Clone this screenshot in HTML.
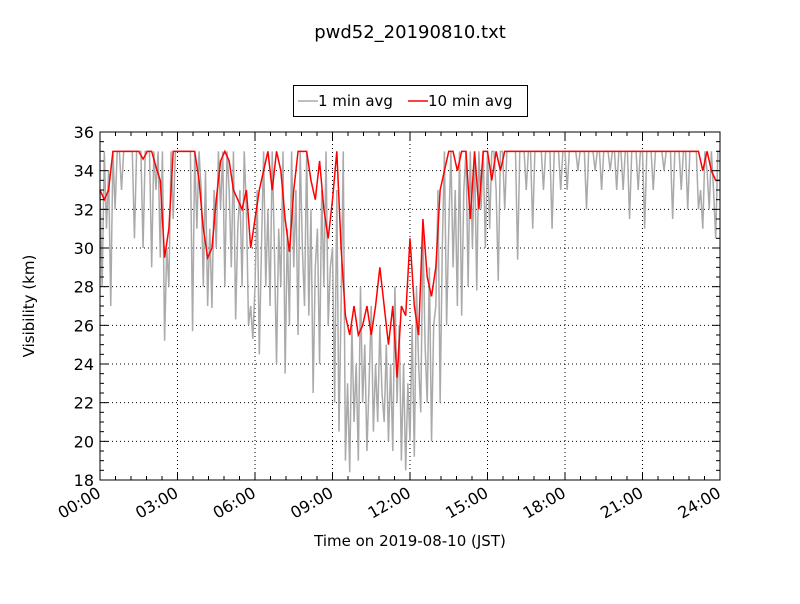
<!DOCTYPE html>
<html><head><meta charset="utf-8"><style>
body{margin:0;background:#fff;font-family:"DejaVu Sans","Liberation Sans",sans-serif}
svg text{font-family:"DejaVu Sans","Liberation Sans",sans-serif}
</style></head><body>
<svg id="chart" width="800" height="600" viewBox="0 0 800 600" xmlns="http://www.w3.org/2000/svg">
<rect width="800" height="600" fill="#fff"/>
<text x="410" y="38" font-size="18" text-anchor="middle">pwd52_20190810.txt</text>
<g id="plot"></g>
<g id="axes"></g>
<text transform="translate(34,306) rotate(-90)" font-size="15" text-anchor="middle">Visibility (km)</text>
<text x="410" y="546" font-size="15" text-anchor="middle">Time on 2019-08-10 (JST)</text>
<g>
<rect x="293.5" y="85.5" width="234" height="31" fill="#fff" stroke="#000"/>
<line x1="298" y1="101" x2="318" y2="101" stroke="#aaa" stroke-width="1.5"/>
<text x="318" y="106" font-size="15">1 min avg</text>
<line x1="408" y1="101" x2="428" y2="101" stroke="#f00" stroke-width="1.5"/>
<text x="428" y="106" font-size="15">10 min avg</text>
</g>
</svg>
<script>
const yTicks=[18,20,22,24,26,28,30,32,34,36];
const xTickHours=[0,3,6,9,12,15,18,21,24];
const xTickLabels=["00:00","03:00","06:00","09:00","12:00","15:00","18:00","21:00","24:00"];
const grayVals=[
33,28,35,31,34,27,35,32,35,35,33,35,
35,35,35,35,30.5,35,35,35,30,35,35,35,
29,35,33,35,29.5,35,25.2,30,28,35,31.5,35,
35,35,35,35,35,35,35,25.7,35,31,35,33,
28,34,27,31,26.9,33,30,35,32,35,28,35,
33,29,35,26.3,31,33,28,35,32,26,27,25.3,
28,33,24.5,30,35,28,32,27,35,30,24,31,
28,35,23.5,31,26,35,29,33,25.5,35,30,27,
35,26.5,32,22.5,29,31,24,33,28,35,26,29,
30,22,33,20.5,27,35,19,23,18.4,26,21,24,
19,28,22,25,19.5,23,27,20.5,24,21,26,22.5,
21,25,20,24,19.5,28,22,26,19,24,18.5,23,
20,26,19.2,28,24,21.5,31,25,22,29,20,26,
27,33,22,30,35,26,31,35,29,33,27,35,
26.5,33,35,28,35,30,35,27.8,35,32,35,30,
35,31,35,35,33,28.3,35,35,32,35,35,35,
35,35,29.4,35,35,35,33,35,35,31,35,35,
35,35,33,35,35,35,31,35,35,35,33,35,
35,33,35,35,35,35,34,35,35,35,32,35,
35,35,34,35,35,33,35,35,35,34,35,35,
33,35,35,33,35,35,31.5,35,35,35,33,35,
35,31,35,35,35,33,35,35,35,35,34,35,
35,35,31.5,35,35,35,33,35,35,32,35,35,
35,35,32,33,31,35,34,32,35,33,30.5,35,35];
const redVals=[
33,32.5,33,35,35,35,
35,35,35,35,34.6,35,
35,34.2,33.5,29.5,31,35,
35,35,35,35,35,33.5,
31,29.5,30,32.5,34.5,35,
34.5,33,32.5,32,33,30,
31.5,33,34,35,33,35,
34,31.5,29.8,33,35,35,
35,33.5,32.5,34.5,32,30.5,
32.5,35,30,26.5,25.5,27,
25.5,26,27,25.5,27,29,
27,25,27,23.3,27,26.5,
30.5,27,25.5,31.5,28.5,27.5,
29,33,34,35,35,34,
35,35,31.5,35,32,35,
35,33.5,35,34,35,35,
35,35,35,35,35,35,
35,35,35,35,35,35,
35,35,35,35,35,35,
35,35,35,35,35,35,
35,35,35,35,35,35,
35,35,35,35,35,35,
35,35,35,35,35,35,
35,35,34,35,34,33.5,33.5];
const X0=100,X1=720,Y0=480,Y1=132;
const xs=h=>X0+(X1-X0)*h/24;
const ys=v=>Y0-(Y0-Y1)*(v-18)/18;
const NS="http://www.w3.org/2000/svg";
const plot=document.getElementById('plot'),axes=document.getElementById('axes');
function mk(tag,attrs,parent){const e=document.createElementNS(NS,tag);for(const k in attrs)e.setAttribute(k,attrs[k]);parent.appendChild(e);return e;}
yTicks.forEach(v=>{if(v>18&&v<36){const g=mk('line',{x1:X0,x2:X1,y1:ys(v),y2:ys(v),stroke:'#000','stroke-dasharray':'1,3','stroke-width':1},plot);

}});
xTickHours.forEach(h=>{if(h>0&&h<24){const g=mk('line',{x1:xs(h),x2:xs(h),y1:Y1,y2:Y0,stroke:'#000','stroke-dasharray':'1,3','stroke-width':1},plot);

}});
const gp=grayVals.map((v,i)=>xs(i*5/60).toFixed(2)+','+ys(v).toFixed(2)).join(' ');
const gl=mk('polyline',{points:gp,fill:'none',stroke:'#aaa','stroke-width':1.5},plot);


const rp=redVals.map((v,i)=>xs(i*10/60).toFixed(2)+','+ys(v).toFixed(2)).join(' ');
const rl=mk('polyline',{points:rp,fill:'none',stroke:'#f00','stroke-width':1.5},plot);


const fr=mk('rect',{x:X0,y:Y1,width:X1-X0,height:Y0-Y1,fill:'none',stroke:'#000','stroke-width':1},axes);


for(let v=18;v<=36.001;v+=0.5){const major=Math.abs(v-Math.round(v/2)*2)<1e-6;const L=major?8:4;const y=ys(v);
mk('line',{x1:X0,x2:X0+L,y1:y,y2:y,stroke:'#000'},axes);mk('line',{x1:X1,x2:X1-L,y1:y,y2:y,stroke:'#000'},axes);}
yTicks.forEach(v=>{const t=mk('text',{x:94,y:ys(v)+6,'font-size':16,'text-anchor':'end'},axes);t.textContent=v;

});
for(let h=0;h<=24.001;h+=0.6){const major=Math.abs(h/3-Math.round(h/3))<1e-6;const L=major?8:4;const x=xs(h);
mk('line',{x1:x,x2:x,y1:Y0,y2:Y0-L,stroke:'#000'},axes);mk('line',{x1:x,x2:x,y1:Y1,y2:Y1+L,stroke:'#000'},axes);}
xTickHours.forEach((h,i)=>{const x=xs(h);const t=mk('text',{x:0,y:0,'font-size':16,'text-anchor':'end',transform:`translate(${x+2},${Y0+16}) rotate(-30)`},axes);t.textContent=xTickLabels[i];

});
</script>
</body></html>
